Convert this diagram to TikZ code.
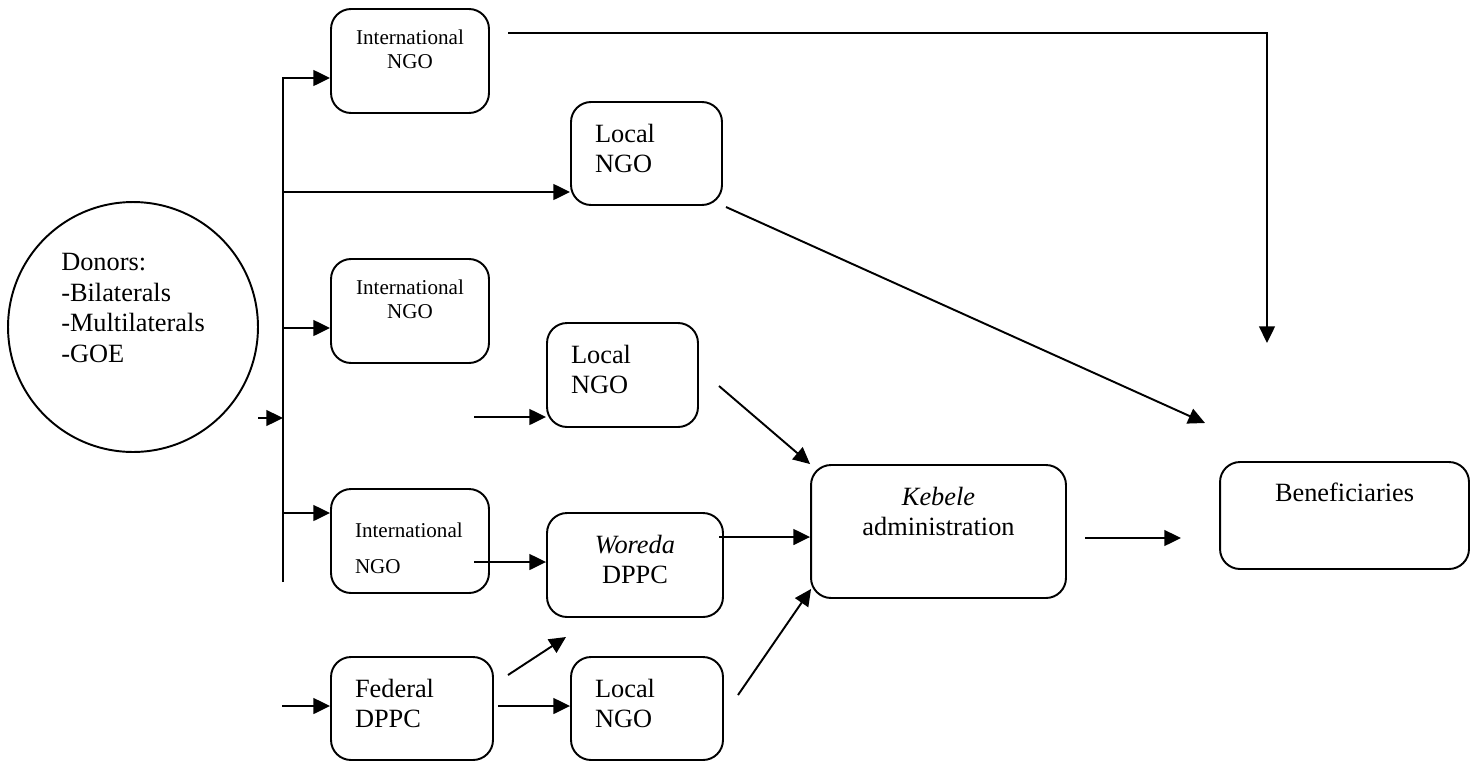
\documentclass[tikz,border=0pt]{standalone}
\usepackage{fontspec}
\setmainfont{Liberation Serif}
\usetikzlibrary{arrows.meta,calc}
\tikzstyle{org} = [rectangle, draw, rounded corners=0.4cm, line width=1.1pt, inner sep=0pt]
\tikzstyle{bigtxt} = [font=\fontsize{15}{17.3}\selectfont, align=left, inner sep=0pt]
\tikzstyle{smalltxt} = [font=\fontsize{12}{13.9}\selectfont, align=center, inner sep=0pt]

\begin{document}
\begin{tikzpicture}[x=0.02cm,y=-0.02cm,->,>={Triangle[length=9.5pt,width=9pt]},
                    line width=1.1pt]
  \useasboundingbox (0,0) rectangle (1476,761);

  \node[circle, draw, minimum size=5cm, inner sep=0pt,
        label={[bigtxt, anchor=center, yshift=0.38cm]center:{Donors:\\-Bilaterals\\-Multilaterals\\-GOE}}]
        (donors) at (133,327) {};

  \node[org, minimum width=3.16cm, minimum height=2.08cm,
        label={[smalltxt, anchor=north, yshift=-0.41cm]north:{International\\NGO}}] (in1) at (410,61) {};
  \node[org, minimum width=3.02cm, minimum height=2.06cm,
        label={[bigtxt, anchor=north west, xshift=0.48cm, yshift=-0.44cm]north west:{Local\\NGO}}] (ln1) at (646.5,153.5) {};
  \node[org, minimum width=3.16cm, minimum height=2.08cm,
        label={[smalltxt, anchor=north, yshift=-0.41cm]north:{International\\NGO}}] (in2) at (410,311) {};
  \node[org, minimum width=3.02cm, minimum height=2.08cm,
        label={[bigtxt, anchor=north west, xshift=0.48cm, yshift=-0.44cm]north west:{Local\\NGO}}] (ln2) at (622.5,375) {};
  \node[org, minimum width=3.16cm, minimum height=2.08cm,
        label={[smalltxt, align=left, anchor=north west, xshift=0.48cm, yshift=-0.67cm]north west:{International\\[7pt]NGO}}] (in3) at (410,541) {};
  \node[org, minimum width=3.52cm, minimum height=2.08cm,
        label={[bigtxt, align=center, anchor=north, yshift=-0.44cm]north:{\textit{Woreda}\\DPPC}}] (wor) at (635,565) {};
  \node[org, minimum width=5.1cm, minimum height=2.66cm,
        label={[bigtxt, align=center, anchor=north, yshift=-0.44cm]north:{\textit{Kebele}\\administration}}] (keb) at (938.5,531.5) {};
  \node[org, minimum width=4.98cm, minimum height=2.14cm,
        label={[bigtxt, align=center, anchor=north, yshift=-0.42cm]north:{Beneficiaries}}] (ben) at (1344.5,515.5) {};
  \node[org, minimum width=3.24cm, minimum height=2.06cm,
        label={[bigtxt, anchor=north west, xshift=0.48cm, yshift=-0.44cm]north west:{Federal\\DPPC}}] (fed) at (412,708.5) {};
  \node[org, minimum width=3.04cm, minimum height=2.06cm,
        label={[bigtxt, anchor=north west, xshift=0.48cm, yshift=-0.44cm]north west:{Local\\NGO}}] (ln3) at (647,708.5) {};

  % free ends of the arrows
  \coordinate (b1) at (283,78);
  \coordinate (b2) at (283,192);
  \coordinate (b3) at (283,328);
  \coordinate (b4) at (283,513);
  \coordinate (bend) at (283,582);
  \coordinate (bin) at (258,418);
  \coordinate (bmid) at (283,418);
  \coordinate (t1) at (508,33);
  \coordinate (t2) at (1267,343);
  \coordinate (d1) at (726,207);
  \coordinate (d2) at (1205,423);
  \coordinate (l2in) at (474,417);
  \coordinate (l2out) at (719,386);
  \coordinate (i3out) at (474,562);
  \coordinate (wout) at (719,537);
  \coordinate (l3out) at (738,695);
  \coordinate (kout) at (1085,538);
  \coordinate (benin) at (1181,538);
  \coordinate (fin) at (282,706);
  \coordinate (fup1) at (508,675);
  \coordinate (fup2) at (566,637);
  \coordinate (fout) at (498,706);

  \draw (bend) -- (b1) -- (b1 -| in1.west);
  \draw (t1) -| (t2);

  \path (bin) edge (bmid)
        (b2) edge (b2 -| ln1.west)
        (b3) edge (b3 -| in2.west)
        (b4) edge (b4 -| in3.west)
        (d1) edge (d2)
        (l2in) edge (l2in -| ln2.west)
        (l2out) edge (keb.north west)
        (i3out) edge (i3out -| wor.west)
        (wout) edge (wout -| keb.west)
        (l3out) edge ($(keb.south west)+(1,-10)$)
        (kout) edge (benin)
        (fin) edge (fin -| fed.west)
        (fup1) edge (fup2)
        (fout) edge (fout -| ln3.west);
\end{tikzpicture}
\end{document}
